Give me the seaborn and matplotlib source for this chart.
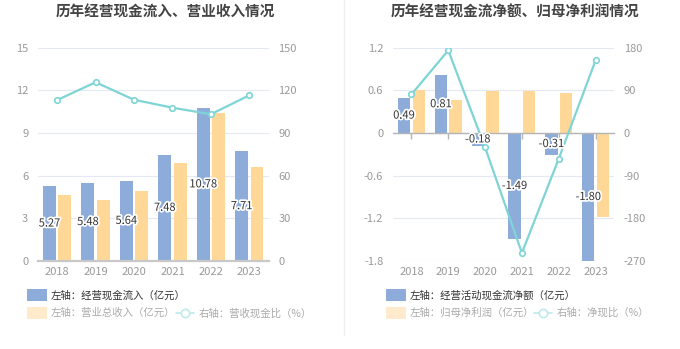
import matplotlib
matplotlib.use("Agg")
import matplotlib.pyplot as plt
import matplotlib.patheffects as pe
from matplotlib.patches import Rectangle
from matplotlib.lines import Line2D
import seaborn as sns
import pandas as pd
import numpy as np

sns.set_theme(style="white")
plt.rcParams['font.family'] = ['Noto Sans CJK SC', 'DejaVu Sans']
plt.rcParams['axes.unicode_minus'] = False

years = ["2018", "2019", "2020", "2021", "2022", "2023"]

# Left chart
cash_in = [5.27, 5.48, 5.64, 7.48, 10.78, 7.71]
revenue = [4.63, 4.32, 4.95, 6.89, 10.39, 6.59]
cash_rev_ratio = [113.2, 125.7, 113.4, 107.8, 103.2, 116.5]

# Right chart
net_cash = [0.49, 0.81, -0.18, -1.49, -0.31, -1.80]
net_profit = [0.605, 0.47, 0.585, 0.595, 0.557, -1.18]
net_ratio = [81.4, 174.3, -30.4, -253.0, -54.2, 153.2]

left_ticks = [0, 3, 6, 9, 12, 15]
left_rticks = [0, 30, 60, 90, 120, 150]
right_ticks = [-1.8, -1.2, -0.6, 0, 0.6, 1.2]
right_tick_labels = ["-1.8", "-1.2", "-0.6", "0", "0.6", "1.2"]
right_rticks = [-270, -180, -90, 0, 90, 180]

BLUE = "#8DACDA"
YELLOW = "#FFD797"
CYAN = "#7FD4D6"
GRID = "#E4E8F2"
TICK = "#999999"
DARK = "#333333"

W, H = 680, 349
fig = plt.figure(figsize=(W / 100, H / 100), dpi=100)
fig.patch.set_facecolor("white")


def make_panel(rect, s1, s2, ratio, n1, n2, yticks, ylabels, rticks, ylim, rlim, zero_axis):
    ax = fig.add_axes(rect)
    df = pd.DataFrame({
        "year": years * 2,
        "series": [n1] * len(years) + [n2] * len(years),
        "value": list(s1) + list(s2),
    })
    sns.barplot(data=df, x="year", y="value", hue="series", order=years,
                hue_order=[n1, n2], palette=[BLUE, YELLOW], width=0.8, gap=0.16,
                ax=ax, legend=False, saturation=1, edgecolor="none", zorder=2)
    ax.set_xlim(-0.5, len(years) - 0.5)
    ax.set_ylim(*ylim)
    ax.set_yticks(yticks)
    ax.set_yticklabels(ylabels)
    ax.set_xlabel("")
    ax.set_ylabel("")
    ax.grid(axis="y", color=GRID, lw=0.8, zorder=0)
    ax.set_axisbelow(True)
    for s in ["top", "right", "left"]:
        ax.spines[s].set_visible(False)
    ax.tick_params(axis="y", length=0, labelsize=8, labelcolor=TICK, pad=7)
    if zero_axis:
        # axis line with ticks at zero, labels at the bottom
        ax.spines["bottom"].set_position(("data", 0))
        ax.spines["bottom"].set_color("#B4B4B4")
        ax.spines["bottom"].set_linewidth(1)
        ax.spines["bottom"].set_zorder(3)
        ax.tick_params(axis="x", direction="out", length=4, width=1, color="#B4B4B4",
                       labelbottom=False, bottom=True)
        sec = ax.secondary_xaxis("bottom")
        sec.set_xticks(range(len(years)))
        sec.set_xticklabels(years)
        sec.tick_params(axis="x", length=0, labelsize=8, labelcolor=TICK, pad=4)
        sec.spines["bottom"].set_visible(False)
    else:
        ax.tick_params(axis="x", length=0, labelsize=8, labelcolor=TICK, pad=4)
        ax.spines["bottom"].set_color("#C8C8C8")
        ax.spines["bottom"].set_linewidth(1.6)

    ax2 = ax.twinx()
    ax2.set_ylim(*rlim)
    ax2.set_yticks(rticks)
    ax2.set_yticklabels([str(t) for t in rticks])
    ax2.tick_params(axis="y", length=0, labelsize=8, labelcolor=TICK, pad=7)
    for s in ["top", "right", "left", "bottom"]:
        ax2.spines[s].set_visible(False)
    ax2.grid(False)
    ldf = pd.DataFrame({"x": np.arange(len(years)), "ratio": ratio})
    sns.lineplot(data=ldf, x="x", y="ratio", ax=ax2, color=CYAN, lw=1.6,
                 marker="o", markersize=4, markerfacecolor="white",
                 markeredgecolor=CYAN, markeredgewidth=1.2, zorder=4)
    ax2.set_xlim(-0.5, len(years) - 0.5)
    ax2.set_xlabel("")
    ax2.set_ylabel("")

    # bar value labels (on top of the line)
    for i, v in enumerate(s1):
        ax2.text(i - 0.2, v / 2, f"{v:.2f}", transform=ax.transData,
                 ha="center", va="center", fontsize=8, color=DARK, zorder=6,
                 path_effects=[pe.withStroke(linewidth=2.5, foreground="white")])
    return ax, ax2


make_panel([38 / W, 1 - 261 / H, 230.5 / W, 213.3 / H], cash_in, revenue, cash_rev_ratio,
           "经营现金流入", "营业总收入", left_ticks, [str(t) for t in left_ticks],
           left_rticks, (0, 15), (0, 150), zero_axis=False)
make_panel([393 / W, 1 - 261 / H, 221 / W, 213.3 / H], net_cash, net_profit, net_ratio,
           "经营活动现金流净额", "归母净利润", right_ticks, right_tick_labels,
           right_rticks, (-1.8, 1.2), (-270, 180), zero_axis=True)

# titles
fig.text(165 / W, 1 - 12 / H, "历年经营现金流入、营业收入情况", ha="center", va="center",
         fontsize=10.5, fontweight="bold", color="#444444")
fig.text(515 / W, 1 - 12 / H, "历年经营现金流净额、归母净利润情况", ha="center", va="center",
         fontsize=10.5, fontweight="bold", color="#444444")

# separator
fig.add_artist(Line2D([344 / W, 344 / W], [1 - 335 / H, 1.0], color="#EEEEEE", lw=1))


def legend_item_patch(x, y, color, text, tcolor):
    fig.patches.append(Rectangle((x / W, 1 - (y + 6) / H), 20 / W, 12 / H,
                                 transform=fig.transFigure, facecolor=color,
                                 edgecolor="none", figure=fig))
    fig.text((x + 24) / W, 1 - y / H, text, ha="left", va="center", fontsize=7.5, color=tcolor)


def legend_item_line(x, y, text):
    fig.add_artist(Line2D([x / W, (x + 18) / W], [1 - y / H, 1 - y / H], color="#BFE9EA", lw=1.2))
    fig.add_artist(Line2D([(x + 9) / W], [1 - y / H], marker="o", markersize=6,
                          markerfacecolor="white", markeredgecolor="#BFE9EA", markeredgewidth=1.2))
    fig.text((x + 23) / W, 1 - y / H, text, ha="left", va="center", fontsize=7.5, color="#AAAAAA")


legend_item_patch(27, 295, BLUE, "左轴：经营现金流入（亿元）", DARK)
legend_item_patch(27, 313, "#FFEBCB", "左轴：营业总收入（亿元）", "#AAAAAA")
legend_item_line(176, 313, "右轴：营收现金比（%）")

legend_item_patch(386, 295, BLUE, "左轴：经营活动现金流净额（亿元）", DARK)
legend_item_patch(386, 313, "#FFEBCB", "左轴：归母净利润（亿元）", "#AAAAAA")
legend_item_line(534, 313, "右轴：净现比（%）")

fig.savefig("out.png", dpi=100, facecolor="white")
